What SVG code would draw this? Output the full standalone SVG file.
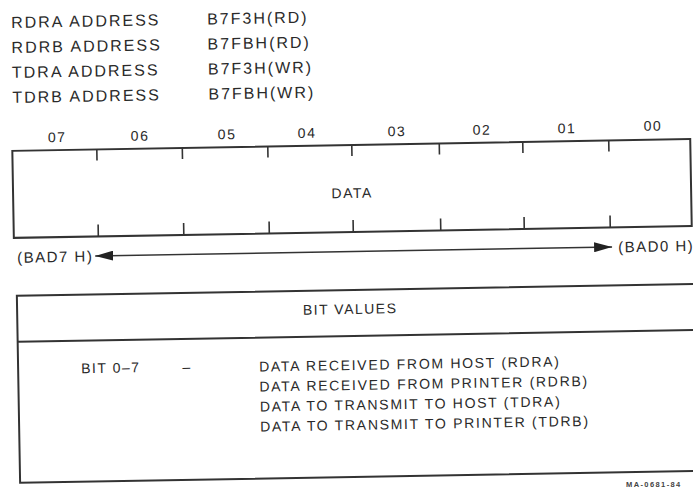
<svg xmlns="http://www.w3.org/2000/svg" width="693" height="488" viewBox="0 0 693 488">
<style>
text{font-family:"Liberation Sans",Arial,sans-serif;fill:#2a2a2a}
.hdr{font-size:16px;letter-spacing:2px}
.lbl{font-size:14px;letter-spacing:1.5px}
.lst{font-size:14px;letter-spacing:1.7px}
.mid{text-anchor:middle}
.ln{fill:none;stroke:#333;stroke-width:2}
.tk{stroke:#333;stroke-width:1.6}
.small{font-size:7.5px;letter-spacing:1.4px;font-weight:bold;fill:#444}
</style>
<defs>
<marker id="ah" viewBox="0 0 18 10" refX="18" refY="5" markerWidth="18" markerHeight="10" markerUnits="userSpaceOnUse" orient="auto-start-reverse">
<path d="M0,0 L18,5 L0,10 Z" fill="#222"/>
</marker>
</defs>
<rect width="693" height="488" fill="#fff"/>
<g transform="rotate(-1 350 244)">
<g id="addresses">
<text class="hdr" x="15" y="22">RDRA ADDRESS</text>
<text class="hdr" x="211" y="22">B7F3H(RD)</text>
<text class="hdr" x="15" y="47">RDRB ADDRESS</text>
<text class="hdr" x="211" y="47">B7FBH(RD)</text>
<text class="hdr" x="15" y="72">TDRA ADDRESS</text>
<text class="hdr" x="211" y="72">B7F3H(WR)</text>
<text class="hdr" x="15" y="97">TDRB ADDRESS</text>
<text class="hdr" x="211" y="97">B7FBH(WR)</text>
</g>
<g id="bit-numbers">
<text class="lbl mid" x="59" y="137">07</text>
<text class="lbl mid" x="142" y="137">06</text>
<text class="lbl mid" x="229" y="137">05</text>
<text class="lbl mid" x="309" y="137">04</text>
<text class="lbl mid" x="399" y="137">03</text>
<text class="lbl mid" x="484" y="137">02</text>
<text class="lbl mid" x="569" y="137">01</text>
<text class="lbl mid" x="655" y="136">00</text>
</g>
<g id="register">
<rect class="ln" x="14" y="145" width="678" height="87"/>
<path class="tk" d="M98.5,145v11M184,145v11M269.5,145v11M353.5,145v11M441,145v11M524.5,145v11M610.5,145v11M98.5,232v-12M184,232v-12M269.5,232v-12M353.5,232v-12M441,232v-12M524.5,232v-12M610.5,232v-12"/>
<text class="lbl mid" x="353" y="198">DATA</text>
</g>
<g id="addr-left"><text class="lbl" x="17" y="257" style="font-size:15px">(BAD7 H)</text></g>
<g id="addr-right"><text class="lbl" x="618" y="257" style="font-size:15px">(BAD0 H)</text></g>
<g id="connectors">
<line x1="95" y1="251.5" x2="612" y2="251.5" stroke="#333" stroke-width="1.5" marker-start="url(#ah)" marker-end="url(#ah)"/>
</g>
<g id="bit-values">
<path class="ln" d="M700,290H16V477H700M16,336H700"/>
<text class="lbl mid" x="349" y="314">BIT VALUES</text>
<text class="lbl" x="79" y="368.5">BIT 0–7</text>
<text class="lbl mid" x="185" y="369">–</text>
<text class="lst" x="257" y="370">DATA RECEIVED FROM HOST (RDRA)</text>
<text class="lst" x="257" y="390">DATA RECEIVED FROM PRINTER (RDRB)</text>
<text class="lst" x="257" y="410">DATA TO TRANSMIT TO HOST (TDRA)</text>
<text class="lst" x="257" y="430">DATA TO TRANSMIT TO PRINTER (TDRB)</text>
</g>
</g>
<g id="figure-id"><text class="small" x="626" y="487">MA-0681-84</text></g>
</svg>
